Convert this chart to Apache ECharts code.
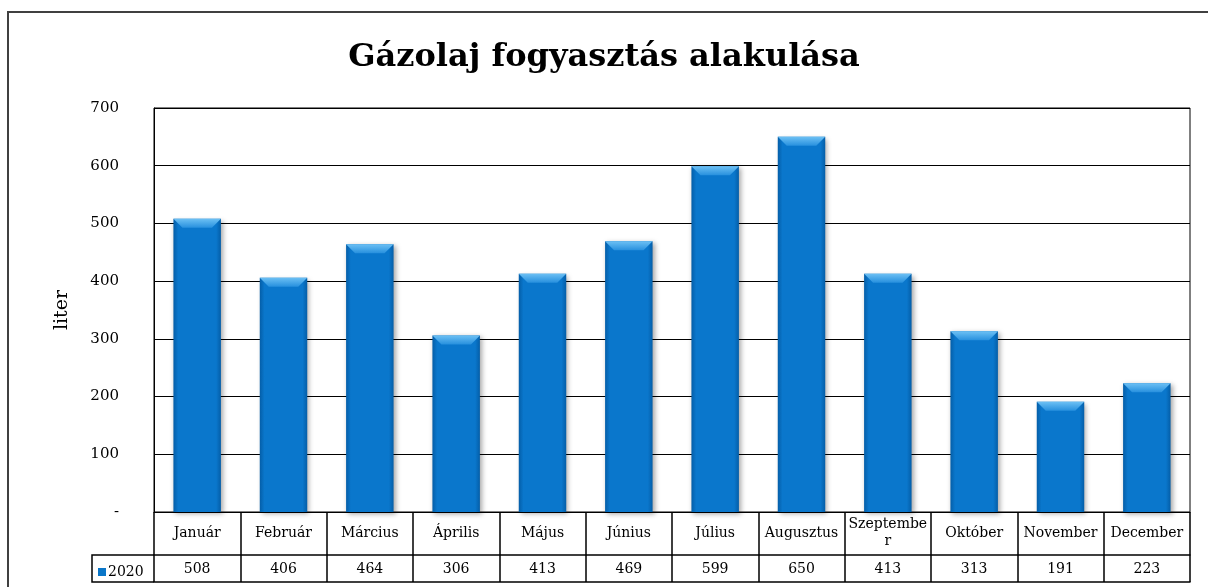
<!DOCTYPE html>
<html>
<head>
<meta charset="utf-8">
<script src="https://cdn.jsdelivr.net/npm/echarts@6/dist/echarts.min.js"></script>
<style>
  html, body { margin: 0; padding: 0; background: #fff; }
  #chart { width: 1208px; height: 587px; }
</style>
</head>
<body>
<div id="chart"></div>
<script>
const months = ["Január", "Február", "Március", "Április", "Május", "Június",
  "Július", "Augusztus", "Szeptember", "Október", "November", "December"];
const seriesName = "2020";
const values = [508, 406, 464, 306, 413, 469, 599, 650, 413, 313, 191, 223];
const yTicks = [0, 100, 200, 300, 400, 500, 600, 700];

const FONT = "DejaVu Serif";

// hosszú hónapnevet két sorba tördeljük, mint az eredetiben
function wrapLabel(s) {
  return s.length > 9 ? s.slice(0, 9) + "\n" + s.slice(9) : s;
}

const chart = echarts.init(document.getElementById("chart"));

const option = {
  animation: false,
  textStyle: { fontFamily: FONT, color: "#000" },
  title: {
    text: "Gázolaj fogyasztás alakulása",
    left: "center",
    top: 37,
    textStyle: { fontFamily: FONT, fontSize: 32, fontWeight: "bold", color: "#000" }
  },
  legend: {
    data: [seriesName],
    left: 93,
    top: 560,
    icon: "rect",
    itemWidth: 8,
    itemHeight: 8,
    itemGap: 2,
    textStyle: { fontFamily: FONT, fontSize: 14, color: "#000", padding: [0, 0, 0, -3] }
  },
  grid: {
    left: 154,
    right: 18,
    top: 108,
    bottom: 75,
    show: true,
    borderColor: "#000",
    borderWidth: 1
  },
  xAxis: [
    {
      type: "category",
      data: months,
      position: "bottom",
      axisLine: { show: true, lineStyle: { color: "#000", width: 1 } },
      axisTick: { show: true, interval: 0, length: 70, lineStyle: { color: "#000", width: 1.5 } },
      axisLabel: {
        interval: 0,
        margin: 21,
        verticalAlign: "middle",
        fontFamily: FONT,
        fontSize: 14,
        color: "#000",
        lineHeight: 17,
        formatter: wrapLabel
      }
    },
    {
      type: "category",
      data: months,
      position: "bottom",
      offset: 43,
      axisLine: { show: true, lineStyle: { color: "#000", width: 1.5 } },
      axisTick: { show: false },
      axisLabel: {
        interval: 0,
        margin: 14,
        verticalAlign: "middle",
        fontFamily: FONT,
        fontSize: 14,
        color: "#000",
        formatter: (v, i) => String(values[i])
      }
    },
    {
      type: "category",
      data: months,
      position: "bottom",
      offset: 70,
      axisLine: { show: true, lineStyle: { color: "#000", width: 1.5 } },
      axisTick: { show: false },
      axisLabel: { show: false }
    }
  ],
  yAxis: {
    type: "value",
    min: yTicks[0],
    max: yTicks[yTicks.length - 1],
    interval: 100,
    name: "liter",
    nameLocation: "middle",
    nameGap: 82,
    nameRotate: 90,
    nameTextStyle: { fontFamily: FONT, fontSize: 19, color: "#000" },
    axisLine: { show: true, lineStyle: { color: "#000", width: 1 } },
    axisTick: { show: false },
    splitLine: { show: true, lineStyle: { color: "#000", width: 1 } },
    axisLabel: {
      margin: 35,
      fontFamily: FONT,
      fontSize: 15,
      color: "#000",
      formatter: v => (v === 0 ? "-" : String(v))
    }
  },
  series: [
    {
      name: seriesName,
      type: "custom",
      xAxisIndex: 0,
      itemStyle: { color: "#0a76c8" },
      data: values.map((v, i) => [i, v]),
      encode: { x: 0, y: 1 },
      renderItem(params, api) {
        const top = api.coord([api.value(0), api.value(1)]);
        const base = api.coord([api.value(0), 0]);
        const w = api.size([1, 0])[0] * 0.55;
        const x = top[0] - w / 2;
        const y = top[1];
        const h = base[1] - top[1];
        const b = Math.min(9, h / 2);
        return {
          type: "group",
          children: [
            {
              type: "rect",
              shape: { x: x, y: y, width: w, height: h },
              style: {
                fill: new echarts.graphic.LinearGradient(0, 0, 1, 0, [
                  { offset: 0, color: "#045ea8" },
                  { offset: 0.1, color: "#0a77cc" },
                  { offset: 0.9, color: "#0a77cc" },
                  { offset: 1, color: "#045ea8" }
                ]),
                shadowColor: "rgba(0,0,0,0.35)",
                shadowBlur: 5,
                shadowOffsetX: 2,
                shadowOffsetY: 2
              }
            },
            {
              type: "polygon",
              shape: { points: [[x, y], [x + w, y], [x + w - b, y + b], [x + b, y + b]] },
              style: {
                fill: new echarts.graphic.LinearGradient(0, 0, 0, 1, [
                  { offset: 0, color: "#6cc0f4" },
                  { offset: 1, color: "#2790de" }
                ])
              }
            }
          ]
        };
      }
    }
  ],
  graphic: [
    {
      type: "rect",
      shape: { x: 8, y: 12, width: 1220, height: 590 },
      style: { fill: "none", stroke: "#404040", lineWidth: 2 },
      silent: true
    },
    {
      type: "polyline",
      shape: { points: [[154, 555], [92, 555], [92, 582], [154, 582]] },
      style: { fill: "none", stroke: "#000", lineWidth: 1.5 },
      silent: true
    }
  ]
};

chart.setOption(option);
</script>
</body>
</html>
